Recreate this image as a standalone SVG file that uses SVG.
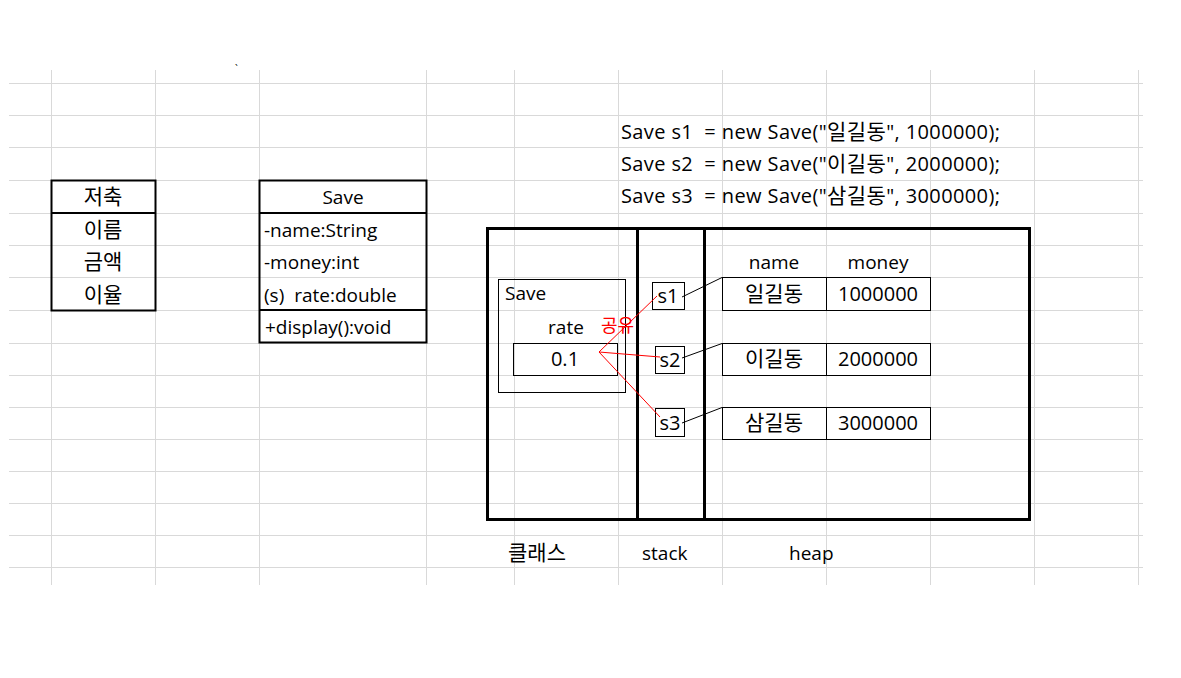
<svg xmlns="http://www.w3.org/2000/svg" width="1181" height="678" viewBox="0 0 1181 678">
<style>
text{font-family:"Open Sans","Noto Sans CJK KR",sans-serif;font-size:19px;fill:#000}
.c{text-anchor:middle}
.k{font-size:21px}
.n{font-size:20px}
.code{font-size:20px}
.grid{stroke:#d9d9d9;stroke-width:1;fill:none}
.thick{stroke:#000;stroke-width:2;fill:none}
.heavy{stroke:#000;stroke-width:3;fill:none}
.thin{stroke:#000;stroke-width:1;fill:none}
.red{stroke:#ff0000;stroke-width:1;fill:none}
</style>
<rect width="1181" height="678" fill="#fff"/>
<g id="grid">
<path class="grid" d="M51.5 70V585M155.5 70V585M259.5 70V585M426.5 70V585M514.5 70V585M618.5 70V585M722.5 70V585M826.5 70V585M930.5 70V585M1034.5 70V585M1138.5 70V585"/>
<path class="grid" d="M9 83.5H1143M9 115.5H1143M9 147.5H1143M9 180.5H1143M9 213.5H1143M9 245.5H1143M9 277.5H1143M9 310.5H1143M9 343.5H1143M9 375.5H1143M9 407.5H1143M9 439.5H1143M9 471.5H1143M9 503.5H1143M9 535.5H1143M9 567.5H1143"/>
</g>
<text x="235" y="73" style="font-size:10px">`</text>
<g id="savings-table">
<rect class="thick" x="51.5" y="180.5" width="104" height="130"/>
<line class="thick" x1="51.5" y1="213" x2="155.5" y2="213"/>
<text class="c k" x="103" y="204">저축</text>
<text class="c k" x="103" y="237">이름</text>
<text class="c k" x="103" y="269">금액</text>
<text class="c k" x="103" y="302">이율</text>
</g>
<g id="save-class">
<rect class="thick" x="259.5" y="180.5" width="167" height="162"/>
<line class="thick" x1="259.5" y1="213" x2="426.5" y2="213"/>
<line class="thick" x1="259.5" y1="310" x2="426.5" y2="310"/>
<text class="c" x="343" y="204">Save</text>
<text x="264" y="237">-name:String</text>
<text x="264" y="269">-money:int</text>
<text x="264" y="302" xml:space="preserve">(s)  rate:double</text>
<text x="265" y="334">+display():void</text>
</g>
<g id="code">
<text class="code" x="621" y="139" textLength="379" lengthAdjust="spacing" xml:space="preserve">Save s1  = new Save("<tspan class="k">일길동</tspan>", 1000000);</text>
<text class="code" x="621" y="171" textLength="379" lengthAdjust="spacing" xml:space="preserve">Save s2  = new Save("<tspan class="k">이길동</tspan>", 2000000);</text>
<text class="code" x="621" y="203" textLength="379" lengthAdjust="spacing" xml:space="preserve">Save s3  = new Save("<tspan class="k">삼길동</tspan>", 3000000);</text>
</g>
<g id="memory">
<rect class="heavy" x="487.5" y="228.5" width="542" height="291"/>
<line class="heavy" x1="637.5" y1="228.5" x2="637.5" y2="519.5"/>
<line class="heavy" x1="704.5" y1="228.5" x2="704.5" y2="519.5"/>
</g>
<g id="class-area">
<rect class="thin" x="498.5" y="279.5" width="127" height="113"/>
<text x="505" y="300">Save</text>
<text class="c" x="566" y="334">rate</text>
<rect class="thin" x="513.5" y="343.5" width="104" height="32"/>
<text class="c n" x="565" y="366">0.1</text>
</g>
<g id="s1"><rect class="thin" x="652.5" y="282.5" width="32" height="27"/><text class="c n" x="668" y="303">s1</text></g>
<g id="s2"><rect class="thin" x="655.5" y="346.5" width="29" height="27"/><text class="c n" x="670" y="367">s2</text></g>
<g id="s3"><rect class="thin" x="655.5" y="408.5" width="29" height="28"/><text class="c n" x="670" y="430">s3</text></g>
<g id="heap">
<text class="c" x="774" y="269">name</text>
<text class="c" x="878" y="269">money</text>
<g id="obj1">
<rect class="thin" x="722.5" y="277.5" width="104" height="33"/>
<rect class="thin" x="826.5" y="277.5" width="104" height="33"/>
<text class="c k" x="774" y="301">일길동</text>
<text class="c n" x="878" y="301">1000000</text>
</g>
<g id="obj2">
<rect class="thin" x="722.5" y="343.5" width="104" height="32"/>
<rect class="thin" x="826.5" y="343.5" width="104" height="32"/>
<text class="c k" x="774" y="366">이길동</text>
<text class="c n" x="878" y="366">2000000</text>
</g>
<g id="obj3">
<rect class="thin" x="722.5" y="407.5" width="104" height="32"/>
<rect class="thin" x="826.5" y="407.5" width="104" height="32"/>
<text class="c k" x="774" y="430">삼길동</text>
<text class="c n" x="878" y="430">3000000</text>
</g>
</g>
<g id="connectors">
<line class="thin" x1="682" y1="297" x2="722" y2="277.5"/>
<line class="thin" x1="682" y1="358" x2="722" y2="343.5"/>
<line class="thin" x1="682" y1="423" x2="722" y2="407.5"/>
<line class="red" x1="599" y1="352" x2="657" y2="296"/>
<line class="red" x1="599" y1="352" x2="660" y2="357"/>
<line class="red" x1="599" y1="352" x2="660" y2="417"/>
</g>
<text x="601" y="332" style="fill:#ff0000;font-size:18px">공유</text>
<g id="labels">
<text x="508" y="560" style="font-size:21px">클래스</text>
<text x="642" y="560">stack</text>
<text x="789" y="560">heap</text>
</g>
</svg>
